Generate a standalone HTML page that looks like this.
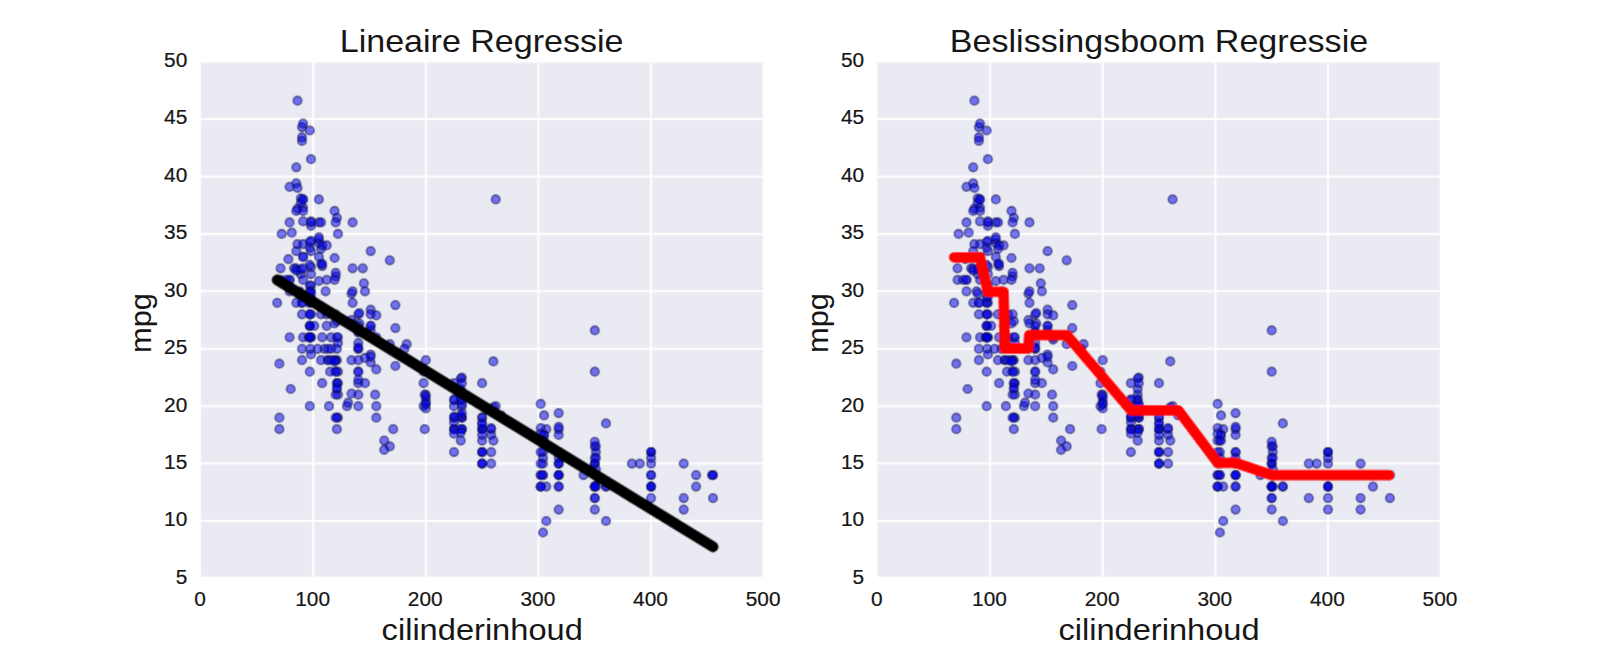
<!DOCTYPE html>
<html><head><meta charset="utf-8"><style>
html,body{margin:0;padding:0;background:#fff;width:1600px;height:656px;overflow:hidden}
svg{display:block}
text{font-family:"Liberation Sans",sans-serif;fill:#161616} text.k{stroke:#161616;stroke-width:0.2px}
</style></head><body>
<svg width="1600" height="656" viewBox="0 0 1600 656">
<defs><filter id="b" filterUnits="userSpaceOnUse" x="0" y="0" width="1600" height="656"><feConvolveMatrix order="3" kernelMatrix="1 6 1 6 36 6 1 6 1" divisor="64" edgeMode="duplicate"/></filter></defs>
<g filter="url(#b)">
<rect width="1600" height="656" fill="#fff"/>
<rect x="200.90" y="62.60" width="561.60" height="514.10" fill="#EAEAF2"/>
<line x1="313.22" y1="62.60" x2="313.22" y2="576.70" stroke="#fff" stroke-width="2"/>
<line x1="425.84" y1="62.60" x2="425.84" y2="576.70" stroke="#fff" stroke-width="2"/>
<line x1="538.46" y1="62.60" x2="538.46" y2="576.70" stroke="#fff" stroke-width="2"/>
<line x1="651.08" y1="62.60" x2="651.08" y2="576.70" stroke="#fff" stroke-width="2"/>
<line x1="200.90" y1="521.04" x2="762.50" y2="521.04" stroke="#fff" stroke-width="2"/>
<line x1="200.90" y1="463.61" x2="762.50" y2="463.61" stroke="#fff" stroke-width="2"/>
<line x1="200.90" y1="406.18" x2="762.50" y2="406.18" stroke="#fff" stroke-width="2"/>
<line x1="200.90" y1="348.75" x2="762.50" y2="348.75" stroke="#fff" stroke-width="2"/>
<line x1="200.90" y1="291.32" x2="762.50" y2="291.32" stroke="#fff" stroke-width="2"/>
<line x1="200.90" y1="233.89" x2="762.50" y2="233.89" stroke="#fff" stroke-width="2"/>
<line x1="200.90" y1="176.46" x2="762.50" y2="176.46" stroke="#fff" stroke-width="2"/>
<line x1="200.90" y1="119.03" x2="762.50" y2="119.03" stroke="#fff" stroke-width="2"/>
<g fill="#0000eb" fill-opacity="0.52" stroke="#10105a" stroke-opacity="0.6" stroke-width="1.6"><circle cx="546.3" cy="429.2" r="4.3"/><circle cx="594.8" cy="463.6" r="4.3"/><circle cx="558.7" cy="429.2" r="4.3"/><circle cx="543.0" cy="452.1" r="4.3"/><circle cx="540.7" cy="440.6" r="4.3"/><circle cx="683.7" cy="463.6" r="4.3"/><circle cx="711.9" cy="475.1" r="4.3"/><circle cx="696.1" cy="475.1" r="4.3"/><circle cx="713.0" cy="475.1" r="4.3"/><circle cx="639.8" cy="463.6" r="4.3"/><circle cx="631.9" cy="463.6" r="4.3"/><circle cx="583.5" cy="475.1" r="4.3"/><circle cx="651.1" cy="463.6" r="4.3"/><circle cx="713.0" cy="475.1" r="4.3"/><circle cx="327.9" cy="360.2" r="4.3"/><circle cx="423.6" cy="383.2" r="4.3"/><circle cx="424.7" cy="429.2" r="4.3"/><circle cx="425.8" cy="394.7" r="4.3"/><circle cx="309.8" cy="325.8" r="4.3"/><circle cx="309.8" cy="337.3" r="4.3"/><circle cx="324.5" cy="348.8" r="4.3"/><circle cx="321.1" cy="360.2" r="4.3"/><circle cx="317.7" cy="348.8" r="4.3"/><circle cx="336.9" cy="337.3" r="4.3"/><circle cx="424.7" cy="394.7" r="4.3"/><circle cx="606.0" cy="521.0" r="4.3"/><circle cx="546.3" cy="521.0" r="4.3"/><circle cx="558.7" cy="509.6" r="4.3"/><circle cx="543.0" cy="532.5" r="4.3"/><circle cx="309.8" cy="325.8" r="4.3"/><circle cx="358.3" cy="314.3" r="4.3"/><circle cx="327.9" cy="348.8" r="4.3"/><circle cx="461.9" cy="417.7" r="4.3"/><circle cx="454.0" cy="452.1" r="4.3"/><circle cx="482.1" cy="440.6" r="4.3"/><circle cx="482.1" cy="417.7" r="4.3"/><circle cx="461.9" cy="429.2" r="4.3"/><circle cx="594.8" cy="475.1" r="4.3"/><circle cx="651.1" cy="475.1" r="4.3"/><circle cx="595.9" cy="475.1" r="4.3"/><circle cx="558.7" cy="475.1" r="4.3"/><circle cx="631.9" cy="498.1" r="4.3"/><circle cx="651.1" cy="486.6" r="4.3"/><circle cx="651.1" cy="486.6" r="4.3"/><circle cx="491.2" cy="429.2" r="4.3"/><circle cx="358.3" cy="383.2" r="4.3"/><circle cx="482.1" cy="417.7" r="4.3"/><circle cx="482.1" cy="429.2" r="4.3"/><circle cx="338.0" cy="371.7" r="4.3"/><circle cx="331.2" cy="314.3" r="4.3"/><circle cx="289.6" cy="291.3" r="4.3"/><circle cx="299.7" cy="291.3" r="4.3"/><circle cx="280.6" cy="279.8" r="4.3"/><circle cx="281.7" cy="233.9" r="4.3"/><circle cx="309.8" cy="325.8" r="4.3"/><circle cx="303.1" cy="337.3" r="4.3"/><circle cx="327.9" cy="360.2" r="4.3"/><circle cx="310.4" cy="348.8" r="4.3"/><circle cx="309.8" cy="371.7" r="4.3"/><circle cx="358.3" cy="406.2" r="4.3"/><circle cx="338.0" cy="394.7" r="4.3"/><circle cx="594.8" cy="486.6" r="4.3"/><circle cx="651.1" cy="475.1" r="4.3"/><circle cx="558.7" cy="463.6" r="4.3"/><circle cx="595.9" cy="475.1" r="4.3"/><circle cx="543.0" cy="440.6" r="4.3"/><circle cx="683.7" cy="509.6" r="4.3"/><circle cx="594.8" cy="486.6" r="4.3"/><circle cx="594.8" cy="498.1" r="4.3"/><circle cx="651.1" cy="486.6" r="4.3"/><circle cx="279.4" cy="417.7" r="4.3"/><circle cx="543.0" cy="463.6" r="4.3"/><circle cx="546.3" cy="486.6" r="4.3"/><circle cx="540.7" cy="486.6" r="4.3"/><circle cx="558.7" cy="475.1" r="4.3"/><circle cx="336.9" cy="429.2" r="4.3"/><circle cx="336.9" cy="383.2" r="4.3"/><circle cx="335.7" cy="394.7" r="4.3"/><circle cx="308.7" cy="337.3" r="4.3"/><circle cx="338.0" cy="383.2" r="4.3"/><circle cx="309.8" cy="314.3" r="4.3"/><circle cx="335.7" cy="371.7" r="4.3"/><circle cx="311.0" cy="314.3" r="4.3"/><circle cx="309.8" cy="325.8" r="4.3"/><circle cx="594.8" cy="486.6" r="4.3"/><circle cx="543.0" cy="475.1" r="4.3"/><circle cx="594.8" cy="486.6" r="4.3"/><circle cx="540.7" cy="475.1" r="4.3"/><circle cx="558.7" cy="463.6" r="4.3"/><circle cx="683.7" cy="498.1" r="4.3"/><circle cx="651.1" cy="486.6" r="4.3"/><circle cx="595.9" cy="486.6" r="4.3"/><circle cx="558.7" cy="475.1" r="4.3"/><circle cx="696.1" cy="486.6" r="4.3"/><circle cx="713.0" cy="498.1" r="4.3"/><circle cx="606.0" cy="486.6" r="4.3"/><circle cx="454.0" cy="429.2" r="4.3"/><circle cx="482.1" cy="452.1" r="4.3"/><circle cx="461.9" cy="429.2" r="4.3"/><circle cx="482.1" cy="429.2" r="4.3"/><circle cx="423.6" cy="371.7" r="4.3"/><circle cx="309.8" cy="337.3" r="4.3"/><circle cx="651.1" cy="509.6" r="4.3"/><circle cx="651.1" cy="498.1" r="4.3"/><circle cx="606.0" cy="486.6" r="4.3"/><circle cx="594.8" cy="498.1" r="4.3"/><circle cx="461.9" cy="429.2" r="4.3"/><circle cx="309.8" cy="406.2" r="4.3"/><circle cx="358.3" cy="394.7" r="4.3"/><circle cx="322.2" cy="383.2" r="4.3"/><circle cx="279.4" cy="429.2" r="4.3"/><circle cx="338.0" cy="417.7" r="4.3"/><circle cx="375.2" cy="394.7" r="4.3"/><circle cx="311.0" cy="337.3" r="4.3"/><circle cx="594.8" cy="463.6" r="4.3"/><circle cx="651.1" cy="452.1" r="4.3"/><circle cx="277.2" cy="302.8" r="4.3"/><circle cx="331.2" cy="360.2" r="4.3"/><circle cx="329.0" cy="406.2" r="4.3"/><circle cx="336.9" cy="417.7" r="4.3"/><circle cx="558.7" cy="463.6" r="4.3"/><circle cx="336.9" cy="360.2" r="4.3"/><circle cx="376.3" cy="406.2" r="4.3"/><circle cx="594.8" cy="509.6" r="4.3"/><circle cx="423.6" cy="406.2" r="4.3"/><circle cx="461.9" cy="417.7" r="4.3"/><circle cx="482.1" cy="463.6" r="4.3"/><circle cx="289.6" cy="279.8" r="4.3"/><circle cx="338.0" cy="337.3" r="4.3"/><circle cx="280.6" cy="268.3" r="4.3"/><circle cx="358.3" cy="348.8" r="4.3"/><circle cx="482.1" cy="452.1" r="4.3"/><circle cx="491.2" cy="452.1" r="4.3"/><circle cx="454.0" cy="429.2" r="4.3"/><circle cx="540.7" cy="452.1" r="4.3"/><circle cx="594.8" cy="486.6" r="4.3"/><circle cx="558.7" cy="475.1" r="4.3"/><circle cx="540.7" cy="475.1" r="4.3"/><circle cx="543.0" cy="475.1" r="4.3"/><circle cx="311.0" cy="302.8" r="4.3"/><circle cx="289.6" cy="337.3" r="4.3"/><circle cx="309.8" cy="337.3" r="4.3"/><circle cx="286.2" cy="279.8" r="4.3"/><circle cx="294.1" cy="268.3" r="4.3"/><circle cx="302.0" cy="314.3" r="4.3"/><circle cx="302.0" cy="360.2" r="4.3"/><circle cx="331.2" cy="337.3" r="4.3"/><circle cx="335.7" cy="360.2" r="4.3"/><circle cx="322.2" cy="337.3" r="4.3"/><circle cx="289.6" cy="279.8" r="4.3"/><circle cx="454.0" cy="417.7" r="4.3"/><circle cx="482.1" cy="429.2" r="4.3"/><circle cx="482.1" cy="463.6" r="4.3"/><circle cx="482.1" cy="463.6" r="4.3"/><circle cx="651.1" cy="452.1" r="4.3"/><circle cx="594.8" cy="463.6" r="4.3"/><circle cx="558.7" cy="452.1" r="4.3"/><circle cx="595.9" cy="475.1" r="4.3"/><circle cx="460.8" cy="440.6" r="4.3"/><circle cx="482.1" cy="452.1" r="4.3"/><circle cx="491.2" cy="463.6" r="4.3"/><circle cx="454.0" cy="429.2" r="4.3"/><circle cx="460.8" cy="394.7" r="4.3"/><circle cx="495.7" cy="406.2" r="4.3"/><circle cx="540.7" cy="486.6" r="4.3"/><circle cx="309.8" cy="302.8" r="4.3"/><circle cx="358.3" cy="371.7" r="4.3"/><circle cx="461.9" cy="406.2" r="4.3"/><circle cx="358.3" cy="371.7" r="4.3"/><circle cx="351.5" cy="360.2" r="4.3"/><circle cx="302.0" cy="348.8" r="4.3"/><circle cx="334.6" cy="360.2" r="4.3"/><circle cx="393.2" cy="429.2" r="4.3"/><circle cx="302.0" cy="302.8" r="4.3"/><circle cx="461.9" cy="417.7" r="4.3"/><circle cx="330.1" cy="371.7" r="4.3"/><circle cx="335.7" cy="371.7" r="4.3"/><circle cx="336.9" cy="383.2" r="4.3"/><circle cx="336.9" cy="348.8" r="4.3"/><circle cx="303.1" cy="256.9" r="4.3"/><circle cx="321.1" cy="314.3" r="4.3"/><circle cx="331.2" cy="348.8" r="4.3"/><circle cx="358.3" cy="348.8" r="4.3"/><circle cx="311.0" cy="337.3" r="4.3"/><circle cx="314.3" cy="325.8" r="4.3"/><circle cx="544.1" cy="434.9" r="4.3"/><circle cx="558.7" cy="452.1" r="4.3"/><circle cx="543.0" cy="457.9" r="4.3"/><circle cx="595.9" cy="469.4" r="4.3"/><circle cx="454.0" cy="383.2" r="4.3"/><circle cx="482.1" cy="383.2" r="4.3"/><circle cx="425.8" cy="360.2" r="4.3"/><circle cx="461.9" cy="377.5" r="4.3"/><circle cx="296.3" cy="302.8" r="4.3"/><circle cx="311.0" cy="354.5" r="4.3"/><circle cx="302.0" cy="302.8" r="4.3"/><circle cx="303.1" cy="256.9" r="4.3"/><circle cx="454.0" cy="406.2" r="4.3"/><circle cx="482.1" cy="429.2" r="4.3"/><circle cx="482.1" cy="423.4" r="4.3"/><circle cx="491.2" cy="434.9" r="4.3"/><circle cx="309.8" cy="297.1" r="4.3"/><circle cx="296.3" cy="268.3" r="4.3"/><circle cx="309.8" cy="314.3" r="4.3"/><circle cx="358.3" cy="331.5" r="4.3"/><circle cx="347.0" cy="406.2" r="4.3"/><circle cx="558.7" cy="486.6" r="4.3"/><circle cx="335.7" cy="417.7" r="4.3"/><circle cx="376.3" cy="417.7" r="4.3"/><circle cx="389.8" cy="446.4" r="4.3"/><circle cx="594.8" cy="446.4" r="4.3"/><circle cx="594.8" cy="486.6" r="4.3"/><circle cx="540.7" cy="486.6" r="4.3"/><circle cx="558.7" cy="486.6" r="4.3"/><circle cx="311.0" cy="274.1" r="4.3"/><circle cx="325.6" cy="291.3" r="4.3"/><circle cx="289.6" cy="222.4" r="4.3"/><circle cx="338.0" cy="343.0" r="4.3"/><circle cx="296.3" cy="251.1" r="4.3"/><circle cx="544.1" cy="434.9" r="4.3"/><circle cx="493.4" cy="440.6" r="4.3"/><circle cx="558.7" cy="457.9" r="4.3"/><circle cx="540.7" cy="463.6" r="4.3"/><circle cx="482.1" cy="434.9" r="4.3"/><circle cx="460.8" cy="400.4" r="4.3"/><circle cx="454.0" cy="417.7" r="4.3"/><circle cx="482.1" cy="423.4" r="4.3"/><circle cx="651.1" cy="452.1" r="4.3"/><circle cx="594.8" cy="457.9" r="4.3"/><circle cx="651.1" cy="457.9" r="4.3"/><circle cx="595.9" cy="452.1" r="4.3"/><circle cx="309.8" cy="302.8" r="4.3"/><circle cx="370.7" cy="354.5" r="4.3"/><circle cx="309.8" cy="337.3" r="4.3"/><circle cx="358.3" cy="343.0" r="4.3"/><circle cx="311.0" cy="285.6" r="4.3"/><circle cx="311.0" cy="251.1" r="4.3"/><circle cx="309.8" cy="291.3" r="4.3"/><circle cx="309.8" cy="285.6" r="4.3"/><circle cx="365.0" cy="383.2" r="4.3"/><circle cx="336.9" cy="389.0" r="4.3"/><circle cx="290.7" cy="389.0" r="4.3"/><circle cx="302.0" cy="140.9" r="4.3"/><circle cx="311.0" cy="221.3" r="4.3"/><circle cx="288.4" cy="259.2" r="4.3"/><circle cx="296.3" cy="183.4" r="4.3"/><circle cx="303.1" cy="221.3" r="4.3"/><circle cx="493.4" cy="407.3" r="4.3"/><circle cx="558.7" cy="413.1" r="4.3"/><circle cx="540.7" cy="403.9" r="4.3"/><circle cx="460.8" cy="415.4" r="4.3"/><circle cx="425.8" cy="400.4" r="4.3"/><circle cx="425.8" cy="403.9" r="4.3"/><circle cx="358.3" cy="347.6" r="4.3"/><circle cx="454.0" cy="400.4" r="4.3"/><circle cx="461.9" cy="413.1" r="4.3"/><circle cx="460.8" cy="399.3" r="4.3"/><circle cx="425.8" cy="397.0" r="4.3"/><circle cx="454.0" cy="422.3" r="4.3"/><circle cx="491.2" cy="428.0" r="4.3"/><circle cx="544.1" cy="415.4" r="4.3"/><circle cx="460.8" cy="432.6" r="4.3"/><circle cx="540.7" cy="428.0" r="4.3"/><circle cx="558.7" cy="434.9" r="4.3"/><circle cx="311.0" cy="291.3" r="4.3"/><circle cx="351.5" cy="320.0" r="4.3"/><circle cx="334.6" cy="323.5" r="4.3"/><circle cx="318.9" cy="281.0" r="4.3"/><circle cx="351.5" cy="393.5" r="4.3"/><circle cx="376.3" cy="369.4" r="4.3"/><circle cx="370.7" cy="362.5" r="4.3"/><circle cx="334.6" cy="361.4" r="4.3"/><circle cx="348.1" cy="402.7" r="4.3"/><circle cx="384.2" cy="440.6" r="4.3"/><circle cx="336.9" cy="387.8" r="4.3"/><circle cx="384.2" cy="449.8" r="4.3"/><circle cx="300.8" cy="274.1" r="4.3"/><circle cx="311.0" cy="297.1" r="4.3"/><circle cx="460.8" cy="389.0" r="4.3"/><circle cx="425.8" cy="408.5" r="4.3"/><circle cx="358.3" cy="379.8" r="4.3"/><circle cx="461.9" cy="403.9" r="4.3"/><circle cx="454.0" cy="399.3" r="4.3"/><circle cx="544.1" cy="440.6" r="4.3"/><circle cx="540.7" cy="433.7" r="4.3"/><circle cx="595.9" cy="446.4" r="4.3"/><circle cx="558.7" cy="426.9" r="4.3"/><circle cx="594.8" cy="441.8" r="4.3"/><circle cx="595.9" cy="457.9" r="4.3"/><circle cx="501.3" cy="415.4" r="4.3"/><circle cx="606.0" cy="423.4" r="4.3"/><circle cx="300.8" cy="269.5" r="4.3"/><circle cx="297.5" cy="244.2" r="4.3"/><circle cx="311.0" cy="225.8" r="4.3"/><circle cx="336.9" cy="321.2" r="4.3"/><circle cx="406.7" cy="344.2" r="4.3"/><circle cx="594.8" cy="371.7" r="4.3"/><circle cx="359.4" cy="323.5" r="4.3"/><circle cx="493.4" cy="361.4" r="4.3"/><circle cx="318.9" cy="243.1" r="4.3"/><circle cx="318.9" cy="239.6" r="4.3"/><circle cx="296.3" cy="270.6" r="4.3"/><circle cx="303.1" cy="207.5" r="4.3"/><circle cx="370.7" cy="309.7" r="4.3"/><circle cx="395.4" cy="305.1" r="4.3"/><circle cx="395.4" cy="328.1" r="4.3"/><circle cx="370.7" cy="251.1" r="4.3"/><circle cx="311.0" cy="159.2" r="4.3"/><circle cx="300.8" cy="198.3" r="4.3"/><circle cx="311.0" cy="267.2" r="4.3"/><circle cx="297.5" cy="208.6" r="4.3"/><circle cx="370.7" cy="314.3" r="4.3"/><circle cx="358.3" cy="332.7" r="4.3"/><circle cx="370.7" cy="356.8" r="4.3"/><circle cx="454.0" cy="416.5" r="4.3"/><circle cx="309.8" cy="241.9" r="4.3"/><circle cx="351.5" cy="293.6" r="4.3"/><circle cx="335.7" cy="276.4" r="4.3"/><circle cx="334.6" cy="210.9" r="4.3"/><circle cx="322.2" cy="266.1" r="4.3"/><circle cx="297.5" cy="100.7" r="4.3"/><circle cx="376.3" cy="315.4" r="4.3"/><circle cx="296.3" cy="167.3" r="4.3"/><circle cx="302.0" cy="127.1" r="4.3"/><circle cx="302.0" cy="137.4" r="4.3"/><circle cx="336.9" cy="217.8" r="4.3"/><circle cx="365.0" cy="291.3" r="4.3"/><circle cx="303.1" cy="123.6" r="4.3"/><circle cx="309.8" cy="247.7" r="4.3"/><circle cx="300.8" cy="293.6" r="4.3"/><circle cx="389.8" cy="260.3" r="4.3"/><circle cx="279.4" cy="363.7" r="4.3"/><circle cx="338.0" cy="233.9" r="4.3"/><circle cx="321.1" cy="263.8" r="4.3"/><circle cx="352.6" cy="323.5" r="4.3"/><circle cx="370.7" cy="330.4" r="4.3"/><circle cx="376.3" cy="339.6" r="4.3"/><circle cx="395.4" cy="366.0" r="4.3"/><circle cx="352.6" cy="291.3" r="4.3"/><circle cx="289.6" cy="186.8" r="4.3"/><circle cx="297.5" cy="187.9" r="4.3"/><circle cx="291.8" cy="232.7" r="4.3"/><circle cx="309.8" cy="264.9" r="4.3"/><circle cx="296.3" cy="210.9" r="4.3"/><circle cx="300.8" cy="202.9" r="4.3"/><circle cx="303.1" cy="244.2" r="4.3"/><circle cx="318.9" cy="237.3" r="4.3"/><circle cx="311.0" cy="240.8" r="4.3"/><circle cx="311.0" cy="292.5" r="4.3"/><circle cx="318.9" cy="256.9" r="4.3"/><circle cx="321.1" cy="248.8" r="4.3"/><circle cx="322.2" cy="263.8" r="4.3"/><circle cx="334.6" cy="258.0" r="4.3"/><circle cx="335.7" cy="272.9" r="4.3"/><circle cx="359.4" cy="313.1" r="4.3"/><circle cx="363.9" cy="283.3" r="4.3"/><circle cx="389.8" cy="344.2" r="4.3"/><circle cx="365.0" cy="357.9" r="4.3"/><circle cx="460.8" cy="378.6" r="4.3"/><circle cx="594.8" cy="330.4" r="4.3"/><circle cx="425.8" cy="403.9" r="4.3"/><circle cx="454.0" cy="433.7" r="4.3"/><circle cx="326.7" cy="314.3" r="4.3"/><circle cx="326.7" cy="325.8" r="4.3"/><circle cx="326.7" cy="245.4" r="4.3"/><circle cx="326.7" cy="279.8" r="4.3"/><circle cx="352.6" cy="302.8" r="4.3"/><circle cx="370.7" cy="325.8" r="4.3"/><circle cx="358.3" cy="360.2" r="4.3"/><circle cx="318.9" cy="222.4" r="4.3"/><circle cx="303.1" cy="210.9" r="4.3"/><circle cx="303.1" cy="279.8" r="4.3"/><circle cx="318.9" cy="199.4" r="4.3"/><circle cx="311.0" cy="222.4" r="4.3"/><circle cx="335.7" cy="222.4" r="4.3"/><circle cx="321.1" cy="222.4" r="4.3"/><circle cx="322.2" cy="245.4" r="4.3"/><circle cx="303.1" cy="199.4" r="4.3"/><circle cx="303.1" cy="268.3" r="4.3"/><circle cx="303.1" cy="199.4" r="4.3"/><circle cx="404.4" cy="348.8" r="4.3"/><circle cx="495.7" cy="199.4" r="4.3"/><circle cx="376.3" cy="337.3" r="4.3"/><circle cx="461.9" cy="383.2" r="4.3"/><circle cx="362.8" cy="268.3" r="4.3"/><circle cx="352.6" cy="222.4" r="4.3"/><circle cx="370.7" cy="325.8" r="4.3"/><circle cx="358.3" cy="325.8" r="4.3"/><circle cx="309.8" cy="130.5" r="4.3"/><circle cx="352.6" cy="268.3" r="4.3"/><circle cx="335.7" cy="314.3" r="4.3"/><circle cx="334.6" cy="279.8" r="4.3"/></g>
<polyline points="277.2,279.9 713.0,546.8" fill="none" stroke="#000" stroke-width="11.2" stroke-linecap="round"/>
<rect x="877.60" y="62.60" width="562.20" height="514.10" fill="#EAEAF2"/>
<line x1="990.12" y1="62.60" x2="990.12" y2="576.70" stroke="#fff" stroke-width="2"/>
<line x1="1102.74" y1="62.60" x2="1102.74" y2="576.70" stroke="#fff" stroke-width="2"/>
<line x1="1215.36" y1="62.60" x2="1215.36" y2="576.70" stroke="#fff" stroke-width="2"/>
<line x1="1327.98" y1="62.60" x2="1327.98" y2="576.70" stroke="#fff" stroke-width="2"/>
<line x1="877.60" y1="521.04" x2="1439.80" y2="521.04" stroke="#fff" stroke-width="2"/>
<line x1="877.60" y1="463.61" x2="1439.80" y2="463.61" stroke="#fff" stroke-width="2"/>
<line x1="877.60" y1="406.18" x2="1439.80" y2="406.18" stroke="#fff" stroke-width="2"/>
<line x1="877.60" y1="348.75" x2="1439.80" y2="348.75" stroke="#fff" stroke-width="2"/>
<line x1="877.60" y1="291.32" x2="1439.80" y2="291.32" stroke="#fff" stroke-width="2"/>
<line x1="877.60" y1="233.89" x2="1439.80" y2="233.89" stroke="#fff" stroke-width="2"/>
<line x1="877.60" y1="176.46" x2="1439.80" y2="176.46" stroke="#fff" stroke-width="2"/>
<line x1="877.60" y1="119.03" x2="1439.80" y2="119.03" stroke="#fff" stroke-width="2"/>
<g fill="#0000eb" fill-opacity="0.52" stroke="#10105a" stroke-opacity="0.6" stroke-width="1.6"><circle cx="1223.2" cy="429.2" r="4.3"/><circle cx="1271.7" cy="463.6" r="4.3"/><circle cx="1235.6" cy="429.2" r="4.3"/><circle cx="1219.9" cy="452.1" r="4.3"/><circle cx="1217.6" cy="440.6" r="4.3"/><circle cx="1360.6" cy="463.6" r="4.3"/><circle cx="1388.8" cy="475.1" r="4.3"/><circle cx="1373.0" cy="475.1" r="4.3"/><circle cx="1389.9" cy="475.1" r="4.3"/><circle cx="1316.7" cy="463.6" r="4.3"/><circle cx="1308.8" cy="463.6" r="4.3"/><circle cx="1260.4" cy="475.1" r="4.3"/><circle cx="1328.0" cy="463.6" r="4.3"/><circle cx="1389.9" cy="475.1" r="4.3"/><circle cx="1004.8" cy="360.2" r="4.3"/><circle cx="1100.5" cy="383.2" r="4.3"/><circle cx="1101.6" cy="429.2" r="4.3"/><circle cx="1102.7" cy="394.7" r="4.3"/><circle cx="986.7" cy="325.8" r="4.3"/><circle cx="986.7" cy="337.3" r="4.3"/><circle cx="1001.4" cy="348.8" r="4.3"/><circle cx="998.0" cy="360.2" r="4.3"/><circle cx="994.6" cy="348.8" r="4.3"/><circle cx="1013.8" cy="337.3" r="4.3"/><circle cx="1101.6" cy="394.7" r="4.3"/><circle cx="1282.9" cy="521.0" r="4.3"/><circle cx="1223.2" cy="521.0" r="4.3"/><circle cx="1235.6" cy="509.6" r="4.3"/><circle cx="1219.9" cy="532.5" r="4.3"/><circle cx="986.7" cy="325.8" r="4.3"/><circle cx="1035.2" cy="314.3" r="4.3"/><circle cx="1004.8" cy="348.8" r="4.3"/><circle cx="1138.8" cy="417.7" r="4.3"/><circle cx="1130.9" cy="452.1" r="4.3"/><circle cx="1159.0" cy="440.6" r="4.3"/><circle cx="1159.0" cy="417.7" r="4.3"/><circle cx="1138.8" cy="429.2" r="4.3"/><circle cx="1271.7" cy="475.1" r="4.3"/><circle cx="1328.0" cy="475.1" r="4.3"/><circle cx="1272.8" cy="475.1" r="4.3"/><circle cx="1235.6" cy="475.1" r="4.3"/><circle cx="1308.8" cy="498.1" r="4.3"/><circle cx="1328.0" cy="486.6" r="4.3"/><circle cx="1328.0" cy="486.6" r="4.3"/><circle cx="1168.1" cy="429.2" r="4.3"/><circle cx="1035.2" cy="383.2" r="4.3"/><circle cx="1159.0" cy="417.7" r="4.3"/><circle cx="1159.0" cy="429.2" r="4.3"/><circle cx="1014.9" cy="371.7" r="4.3"/><circle cx="1008.1" cy="314.3" r="4.3"/><circle cx="966.5" cy="291.3" r="4.3"/><circle cx="976.6" cy="291.3" r="4.3"/><circle cx="957.5" cy="279.8" r="4.3"/><circle cx="958.6" cy="233.9" r="4.3"/><circle cx="986.7" cy="325.8" r="4.3"/><circle cx="980.0" cy="337.3" r="4.3"/><circle cx="1004.8" cy="360.2" r="4.3"/><circle cx="987.3" cy="348.8" r="4.3"/><circle cx="986.7" cy="371.7" r="4.3"/><circle cx="1035.2" cy="406.2" r="4.3"/><circle cx="1014.9" cy="394.7" r="4.3"/><circle cx="1271.7" cy="486.6" r="4.3"/><circle cx="1328.0" cy="475.1" r="4.3"/><circle cx="1235.6" cy="463.6" r="4.3"/><circle cx="1272.8" cy="475.1" r="4.3"/><circle cx="1219.9" cy="440.6" r="4.3"/><circle cx="1360.6" cy="509.6" r="4.3"/><circle cx="1271.7" cy="486.6" r="4.3"/><circle cx="1271.7" cy="498.1" r="4.3"/><circle cx="1328.0" cy="486.6" r="4.3"/><circle cx="956.3" cy="417.7" r="4.3"/><circle cx="1219.9" cy="463.6" r="4.3"/><circle cx="1223.2" cy="486.6" r="4.3"/><circle cx="1217.6" cy="486.6" r="4.3"/><circle cx="1235.6" cy="475.1" r="4.3"/><circle cx="1013.8" cy="429.2" r="4.3"/><circle cx="1013.8" cy="383.2" r="4.3"/><circle cx="1012.6" cy="394.7" r="4.3"/><circle cx="985.6" cy="337.3" r="4.3"/><circle cx="1014.9" cy="383.2" r="4.3"/><circle cx="986.7" cy="314.3" r="4.3"/><circle cx="1012.6" cy="371.7" r="4.3"/><circle cx="987.9" cy="314.3" r="4.3"/><circle cx="986.7" cy="325.8" r="4.3"/><circle cx="1271.7" cy="486.6" r="4.3"/><circle cx="1219.9" cy="475.1" r="4.3"/><circle cx="1271.7" cy="486.6" r="4.3"/><circle cx="1217.6" cy="475.1" r="4.3"/><circle cx="1235.6" cy="463.6" r="4.3"/><circle cx="1360.6" cy="498.1" r="4.3"/><circle cx="1328.0" cy="486.6" r="4.3"/><circle cx="1272.8" cy="486.6" r="4.3"/><circle cx="1235.6" cy="475.1" r="4.3"/><circle cx="1373.0" cy="486.6" r="4.3"/><circle cx="1389.9" cy="498.1" r="4.3"/><circle cx="1282.9" cy="486.6" r="4.3"/><circle cx="1130.9" cy="429.2" r="4.3"/><circle cx="1159.0" cy="452.1" r="4.3"/><circle cx="1138.8" cy="429.2" r="4.3"/><circle cx="1159.0" cy="429.2" r="4.3"/><circle cx="1100.5" cy="371.7" r="4.3"/><circle cx="986.7" cy="337.3" r="4.3"/><circle cx="1328.0" cy="509.6" r="4.3"/><circle cx="1328.0" cy="498.1" r="4.3"/><circle cx="1282.9" cy="486.6" r="4.3"/><circle cx="1271.7" cy="498.1" r="4.3"/><circle cx="1138.8" cy="429.2" r="4.3"/><circle cx="986.7" cy="406.2" r="4.3"/><circle cx="1035.2" cy="394.7" r="4.3"/><circle cx="999.1" cy="383.2" r="4.3"/><circle cx="956.3" cy="429.2" r="4.3"/><circle cx="1014.9" cy="417.7" r="4.3"/><circle cx="1052.1" cy="394.7" r="4.3"/><circle cx="987.9" cy="337.3" r="4.3"/><circle cx="1271.7" cy="463.6" r="4.3"/><circle cx="1328.0" cy="452.1" r="4.3"/><circle cx="954.1" cy="302.8" r="4.3"/><circle cx="1008.1" cy="360.2" r="4.3"/><circle cx="1005.9" cy="406.2" r="4.3"/><circle cx="1013.8" cy="417.7" r="4.3"/><circle cx="1235.6" cy="463.6" r="4.3"/><circle cx="1013.8" cy="360.2" r="4.3"/><circle cx="1053.2" cy="406.2" r="4.3"/><circle cx="1271.7" cy="509.6" r="4.3"/><circle cx="1100.5" cy="406.2" r="4.3"/><circle cx="1138.8" cy="417.7" r="4.3"/><circle cx="1159.0" cy="463.6" r="4.3"/><circle cx="966.5" cy="279.8" r="4.3"/><circle cx="1014.9" cy="337.3" r="4.3"/><circle cx="957.5" cy="268.3" r="4.3"/><circle cx="1035.2" cy="348.8" r="4.3"/><circle cx="1159.0" cy="452.1" r="4.3"/><circle cx="1168.1" cy="452.1" r="4.3"/><circle cx="1130.9" cy="429.2" r="4.3"/><circle cx="1217.6" cy="452.1" r="4.3"/><circle cx="1271.7" cy="486.6" r="4.3"/><circle cx="1235.6" cy="475.1" r="4.3"/><circle cx="1217.6" cy="475.1" r="4.3"/><circle cx="1219.9" cy="475.1" r="4.3"/><circle cx="987.9" cy="302.8" r="4.3"/><circle cx="966.5" cy="337.3" r="4.3"/><circle cx="986.7" cy="337.3" r="4.3"/><circle cx="963.1" cy="279.8" r="4.3"/><circle cx="971.0" cy="268.3" r="4.3"/><circle cx="978.9" cy="314.3" r="4.3"/><circle cx="978.9" cy="360.2" r="4.3"/><circle cx="1008.1" cy="337.3" r="4.3"/><circle cx="1012.6" cy="360.2" r="4.3"/><circle cx="999.1" cy="337.3" r="4.3"/><circle cx="966.5" cy="279.8" r="4.3"/><circle cx="1130.9" cy="417.7" r="4.3"/><circle cx="1159.0" cy="429.2" r="4.3"/><circle cx="1159.0" cy="463.6" r="4.3"/><circle cx="1159.0" cy="463.6" r="4.3"/><circle cx="1328.0" cy="452.1" r="4.3"/><circle cx="1271.7" cy="463.6" r="4.3"/><circle cx="1235.6" cy="452.1" r="4.3"/><circle cx="1272.8" cy="475.1" r="4.3"/><circle cx="1137.7" cy="440.6" r="4.3"/><circle cx="1159.0" cy="452.1" r="4.3"/><circle cx="1168.1" cy="463.6" r="4.3"/><circle cx="1130.9" cy="429.2" r="4.3"/><circle cx="1137.7" cy="394.7" r="4.3"/><circle cx="1172.6" cy="406.2" r="4.3"/><circle cx="1217.6" cy="486.6" r="4.3"/><circle cx="986.7" cy="302.8" r="4.3"/><circle cx="1035.2" cy="371.7" r="4.3"/><circle cx="1138.8" cy="406.2" r="4.3"/><circle cx="1035.2" cy="371.7" r="4.3"/><circle cx="1028.4" cy="360.2" r="4.3"/><circle cx="978.9" cy="348.8" r="4.3"/><circle cx="1011.5" cy="360.2" r="4.3"/><circle cx="1070.1" cy="429.2" r="4.3"/><circle cx="978.9" cy="302.8" r="4.3"/><circle cx="1138.8" cy="417.7" r="4.3"/><circle cx="1007.0" cy="371.7" r="4.3"/><circle cx="1012.6" cy="371.7" r="4.3"/><circle cx="1013.8" cy="383.2" r="4.3"/><circle cx="1013.8" cy="348.8" r="4.3"/><circle cx="980.0" cy="256.9" r="4.3"/><circle cx="998.0" cy="314.3" r="4.3"/><circle cx="1008.1" cy="348.8" r="4.3"/><circle cx="1035.2" cy="348.8" r="4.3"/><circle cx="987.9" cy="337.3" r="4.3"/><circle cx="991.2" cy="325.8" r="4.3"/><circle cx="1221.0" cy="434.9" r="4.3"/><circle cx="1235.6" cy="452.1" r="4.3"/><circle cx="1219.9" cy="457.9" r="4.3"/><circle cx="1272.8" cy="469.4" r="4.3"/><circle cx="1130.9" cy="383.2" r="4.3"/><circle cx="1159.0" cy="383.2" r="4.3"/><circle cx="1102.7" cy="360.2" r="4.3"/><circle cx="1138.8" cy="377.5" r="4.3"/><circle cx="973.2" cy="302.8" r="4.3"/><circle cx="987.9" cy="354.5" r="4.3"/><circle cx="978.9" cy="302.8" r="4.3"/><circle cx="980.0" cy="256.9" r="4.3"/><circle cx="1130.9" cy="406.2" r="4.3"/><circle cx="1159.0" cy="429.2" r="4.3"/><circle cx="1159.0" cy="423.4" r="4.3"/><circle cx="1168.1" cy="434.9" r="4.3"/><circle cx="986.7" cy="297.1" r="4.3"/><circle cx="973.2" cy="268.3" r="4.3"/><circle cx="986.7" cy="314.3" r="4.3"/><circle cx="1035.2" cy="331.5" r="4.3"/><circle cx="1023.9" cy="406.2" r="4.3"/><circle cx="1235.6" cy="486.6" r="4.3"/><circle cx="1012.6" cy="417.7" r="4.3"/><circle cx="1053.2" cy="417.7" r="4.3"/><circle cx="1066.7" cy="446.4" r="4.3"/><circle cx="1271.7" cy="446.4" r="4.3"/><circle cx="1271.7" cy="486.6" r="4.3"/><circle cx="1217.6" cy="486.6" r="4.3"/><circle cx="1235.6" cy="486.6" r="4.3"/><circle cx="987.9" cy="274.1" r="4.3"/><circle cx="1002.5" cy="291.3" r="4.3"/><circle cx="966.5" cy="222.4" r="4.3"/><circle cx="1014.9" cy="343.0" r="4.3"/><circle cx="973.2" cy="251.1" r="4.3"/><circle cx="1221.0" cy="434.9" r="4.3"/><circle cx="1170.3" cy="440.6" r="4.3"/><circle cx="1235.6" cy="457.9" r="4.3"/><circle cx="1217.6" cy="463.6" r="4.3"/><circle cx="1159.0" cy="434.9" r="4.3"/><circle cx="1137.7" cy="400.4" r="4.3"/><circle cx="1130.9" cy="417.7" r="4.3"/><circle cx="1159.0" cy="423.4" r="4.3"/><circle cx="1328.0" cy="452.1" r="4.3"/><circle cx="1271.7" cy="457.9" r="4.3"/><circle cx="1328.0" cy="457.9" r="4.3"/><circle cx="1272.8" cy="452.1" r="4.3"/><circle cx="986.7" cy="302.8" r="4.3"/><circle cx="1047.6" cy="354.5" r="4.3"/><circle cx="986.7" cy="337.3" r="4.3"/><circle cx="1035.2" cy="343.0" r="4.3"/><circle cx="987.9" cy="285.6" r="4.3"/><circle cx="987.9" cy="251.1" r="4.3"/><circle cx="986.7" cy="291.3" r="4.3"/><circle cx="986.7" cy="285.6" r="4.3"/><circle cx="1041.9" cy="383.2" r="4.3"/><circle cx="1013.8" cy="389.0" r="4.3"/><circle cx="967.6" cy="389.0" r="4.3"/><circle cx="978.9" cy="140.9" r="4.3"/><circle cx="987.9" cy="221.3" r="4.3"/><circle cx="965.3" cy="259.2" r="4.3"/><circle cx="973.2" cy="183.4" r="4.3"/><circle cx="980.0" cy="221.3" r="4.3"/><circle cx="1170.3" cy="407.3" r="4.3"/><circle cx="1235.6" cy="413.1" r="4.3"/><circle cx="1217.6" cy="403.9" r="4.3"/><circle cx="1137.7" cy="415.4" r="4.3"/><circle cx="1102.7" cy="400.4" r="4.3"/><circle cx="1102.7" cy="403.9" r="4.3"/><circle cx="1035.2" cy="347.6" r="4.3"/><circle cx="1130.9" cy="400.4" r="4.3"/><circle cx="1138.8" cy="413.1" r="4.3"/><circle cx="1137.7" cy="399.3" r="4.3"/><circle cx="1102.7" cy="397.0" r="4.3"/><circle cx="1130.9" cy="422.3" r="4.3"/><circle cx="1168.1" cy="428.0" r="4.3"/><circle cx="1221.0" cy="415.4" r="4.3"/><circle cx="1137.7" cy="432.6" r="4.3"/><circle cx="1217.6" cy="428.0" r="4.3"/><circle cx="1235.6" cy="434.9" r="4.3"/><circle cx="987.9" cy="291.3" r="4.3"/><circle cx="1028.4" cy="320.0" r="4.3"/><circle cx="1011.5" cy="323.5" r="4.3"/><circle cx="995.8" cy="281.0" r="4.3"/><circle cx="1028.4" cy="393.5" r="4.3"/><circle cx="1053.2" cy="369.4" r="4.3"/><circle cx="1047.6" cy="362.5" r="4.3"/><circle cx="1011.5" cy="361.4" r="4.3"/><circle cx="1025.0" cy="402.7" r="4.3"/><circle cx="1061.1" cy="440.6" r="4.3"/><circle cx="1013.8" cy="387.8" r="4.3"/><circle cx="1061.1" cy="449.8" r="4.3"/><circle cx="977.7" cy="274.1" r="4.3"/><circle cx="987.9" cy="297.1" r="4.3"/><circle cx="1137.7" cy="389.0" r="4.3"/><circle cx="1102.7" cy="408.5" r="4.3"/><circle cx="1035.2" cy="379.8" r="4.3"/><circle cx="1138.8" cy="403.9" r="4.3"/><circle cx="1130.9" cy="399.3" r="4.3"/><circle cx="1221.0" cy="440.6" r="4.3"/><circle cx="1217.6" cy="433.7" r="4.3"/><circle cx="1272.8" cy="446.4" r="4.3"/><circle cx="1235.6" cy="426.9" r="4.3"/><circle cx="1271.7" cy="441.8" r="4.3"/><circle cx="1272.8" cy="457.9" r="4.3"/><circle cx="1178.2" cy="415.4" r="4.3"/><circle cx="1282.9" cy="423.4" r="4.3"/><circle cx="977.7" cy="269.5" r="4.3"/><circle cx="974.4" cy="244.2" r="4.3"/><circle cx="987.9" cy="225.8" r="4.3"/><circle cx="1013.8" cy="321.2" r="4.3"/><circle cx="1083.6" cy="344.2" r="4.3"/><circle cx="1271.7" cy="371.7" r="4.3"/><circle cx="1036.3" cy="323.5" r="4.3"/><circle cx="1170.3" cy="361.4" r="4.3"/><circle cx="995.8" cy="243.1" r="4.3"/><circle cx="995.8" cy="239.6" r="4.3"/><circle cx="973.2" cy="270.6" r="4.3"/><circle cx="980.0" cy="207.5" r="4.3"/><circle cx="1047.6" cy="309.7" r="4.3"/><circle cx="1072.3" cy="305.1" r="4.3"/><circle cx="1072.3" cy="328.1" r="4.3"/><circle cx="1047.6" cy="251.1" r="4.3"/><circle cx="987.9" cy="159.2" r="4.3"/><circle cx="977.7" cy="198.3" r="4.3"/><circle cx="987.9" cy="267.2" r="4.3"/><circle cx="974.4" cy="208.6" r="4.3"/><circle cx="1047.6" cy="314.3" r="4.3"/><circle cx="1035.2" cy="332.7" r="4.3"/><circle cx="1047.6" cy="356.8" r="4.3"/><circle cx="1130.9" cy="416.5" r="4.3"/><circle cx="986.7" cy="241.9" r="4.3"/><circle cx="1028.4" cy="293.6" r="4.3"/><circle cx="1012.6" cy="276.4" r="4.3"/><circle cx="1011.5" cy="210.9" r="4.3"/><circle cx="999.1" cy="266.1" r="4.3"/><circle cx="974.4" cy="100.7" r="4.3"/><circle cx="1053.2" cy="315.4" r="4.3"/><circle cx="973.2" cy="167.3" r="4.3"/><circle cx="978.9" cy="127.1" r="4.3"/><circle cx="978.9" cy="137.4" r="4.3"/><circle cx="1013.8" cy="217.8" r="4.3"/><circle cx="1041.9" cy="291.3" r="4.3"/><circle cx="980.0" cy="123.6" r="4.3"/><circle cx="986.7" cy="247.7" r="4.3"/><circle cx="977.7" cy="293.6" r="4.3"/><circle cx="1066.7" cy="260.3" r="4.3"/><circle cx="956.3" cy="363.7" r="4.3"/><circle cx="1014.9" cy="233.9" r="4.3"/><circle cx="998.0" cy="263.8" r="4.3"/><circle cx="1029.5" cy="323.5" r="4.3"/><circle cx="1047.6" cy="330.4" r="4.3"/><circle cx="1053.2" cy="339.6" r="4.3"/><circle cx="1072.3" cy="366.0" r="4.3"/><circle cx="1029.5" cy="291.3" r="4.3"/><circle cx="966.5" cy="186.8" r="4.3"/><circle cx="974.4" cy="187.9" r="4.3"/><circle cx="968.7" cy="232.7" r="4.3"/><circle cx="986.7" cy="264.9" r="4.3"/><circle cx="973.2" cy="210.9" r="4.3"/><circle cx="977.7" cy="202.9" r="4.3"/><circle cx="980.0" cy="244.2" r="4.3"/><circle cx="995.8" cy="237.3" r="4.3"/><circle cx="987.9" cy="240.8" r="4.3"/><circle cx="987.9" cy="292.5" r="4.3"/><circle cx="995.8" cy="256.9" r="4.3"/><circle cx="998.0" cy="248.8" r="4.3"/><circle cx="999.1" cy="263.8" r="4.3"/><circle cx="1011.5" cy="258.0" r="4.3"/><circle cx="1012.6" cy="272.9" r="4.3"/><circle cx="1036.3" cy="313.1" r="4.3"/><circle cx="1040.8" cy="283.3" r="4.3"/><circle cx="1066.7" cy="344.2" r="4.3"/><circle cx="1041.9" cy="357.9" r="4.3"/><circle cx="1137.7" cy="378.6" r="4.3"/><circle cx="1271.7" cy="330.4" r="4.3"/><circle cx="1102.7" cy="403.9" r="4.3"/><circle cx="1130.9" cy="433.7" r="4.3"/><circle cx="1003.6" cy="314.3" r="4.3"/><circle cx="1003.6" cy="325.8" r="4.3"/><circle cx="1003.6" cy="245.4" r="4.3"/><circle cx="1003.6" cy="279.8" r="4.3"/><circle cx="1029.5" cy="302.8" r="4.3"/><circle cx="1047.6" cy="325.8" r="4.3"/><circle cx="1035.2" cy="360.2" r="4.3"/><circle cx="995.8" cy="222.4" r="4.3"/><circle cx="980.0" cy="210.9" r="4.3"/><circle cx="980.0" cy="279.8" r="4.3"/><circle cx="995.8" cy="199.4" r="4.3"/><circle cx="987.9" cy="222.4" r="4.3"/><circle cx="1012.6" cy="222.4" r="4.3"/><circle cx="998.0" cy="222.4" r="4.3"/><circle cx="999.1" cy="245.4" r="4.3"/><circle cx="980.0" cy="199.4" r="4.3"/><circle cx="980.0" cy="268.3" r="4.3"/><circle cx="980.0" cy="199.4" r="4.3"/><circle cx="1081.3" cy="348.8" r="4.3"/><circle cx="1172.6" cy="199.4" r="4.3"/><circle cx="1053.2" cy="337.3" r="4.3"/><circle cx="1138.8" cy="383.2" r="4.3"/><circle cx="1039.7" cy="268.3" r="4.3"/><circle cx="1029.5" cy="222.4" r="4.3"/><circle cx="1047.6" cy="325.8" r="4.3"/><circle cx="1035.2" cy="325.8" r="4.3"/><circle cx="986.7" cy="130.5" r="4.3"/><circle cx="1029.5" cy="268.3" r="4.3"/><circle cx="1012.6" cy="314.3" r="4.3"/><circle cx="1011.5" cy="279.8" r="4.3"/></g>
<polyline points="954.1,257.3 980.0,257.3 987.9,291.9 1003.6,291.9 1004.8,348.5 1028.5,348.5 1029.2,335.1 1066.7,335.1 1130.9,410.3 1178.2,410.3 1217.6,462.8 1235.6,462.8 1271.7,475.1 1389.0,475.1" fill="none" stroke="#ff0000" stroke-width="10.8" stroke-linecap="round" stroke-linejoin="round"/>
</g>
<g class="t">
<text x="481.6" y="52.1" font-size="32" text-anchor="middle" textLength="283.7" lengthAdjust="spacingAndGlyphs">Lineaire Regressie</text>
<text x="482.2" y="640.1" font-size="29" text-anchor="middle" textLength="201.2" lengthAdjust="spacingAndGlyphs">cilinderinhoud</text>
<text transform="translate(150.6,323.0) rotate(-90)" font-size="29" text-anchor="middle" textLength="60" lengthAdjust="spacingAndGlyphs">mpg</text>
<text class="k" x="200.0" y="605.7" font-size="19.3" text-anchor="middle" textLength="11.60" lengthAdjust="spacingAndGlyphs">0</text>
<text class="k" x="312.6" y="605.7" font-size="19.3" text-anchor="middle" textLength="34.80" lengthAdjust="spacingAndGlyphs">100</text>
<text class="k" x="425.2" y="605.7" font-size="19.3" text-anchor="middle" textLength="34.80" lengthAdjust="spacingAndGlyphs">200</text>
<text class="k" x="537.9" y="605.7" font-size="19.3" text-anchor="middle" textLength="34.80" lengthAdjust="spacingAndGlyphs">300</text>
<text class="k" x="650.5" y="605.7" font-size="19.3" text-anchor="middle" textLength="34.80" lengthAdjust="spacingAndGlyphs">400</text>
<text class="k" x="763.1" y="605.7" font-size="19.3" text-anchor="middle" textLength="34.80" lengthAdjust="spacingAndGlyphs">500</text>
<text class="k" x="187.3" y="583.9" font-size="19.4" text-anchor="end" textLength="11.60" lengthAdjust="spacingAndGlyphs">5</text>
<text class="k" x="187.3" y="526.4" font-size="19.4" text-anchor="end" textLength="23.20" lengthAdjust="spacingAndGlyphs">10</text>
<text class="k" x="187.3" y="469.0" font-size="19.4" text-anchor="end" textLength="23.20" lengthAdjust="spacingAndGlyphs">15</text>
<text class="k" x="187.3" y="411.6" font-size="19.4" text-anchor="end" textLength="23.20" lengthAdjust="spacingAndGlyphs">20</text>
<text class="k" x="187.3" y="354.2" font-size="19.4" text-anchor="end" textLength="23.20" lengthAdjust="spacingAndGlyphs">25</text>
<text class="k" x="187.3" y="296.7" font-size="19.4" text-anchor="end" textLength="23.20" lengthAdjust="spacingAndGlyphs">30</text>
<text class="k" x="187.3" y="239.3" font-size="19.4" text-anchor="end" textLength="23.20" lengthAdjust="spacingAndGlyphs">35</text>
<text class="k" x="187.3" y="181.9" font-size="19.4" text-anchor="end" textLength="23.20" lengthAdjust="spacingAndGlyphs">40</text>
<text class="k" x="187.3" y="124.4" font-size="19.4" text-anchor="end" textLength="23.20" lengthAdjust="spacingAndGlyphs">45</text>
<text class="k" x="187.3" y="67.0" font-size="19.4" text-anchor="end" textLength="23.20" lengthAdjust="spacingAndGlyphs">50</text>
<text x="1159.0" y="52.1" font-size="32" text-anchor="middle" textLength="418.3" lengthAdjust="spacingAndGlyphs">Beslissingsboom Regressie</text>
<text x="1159.0" y="640.1" font-size="29" text-anchor="middle" textLength="201.2" lengthAdjust="spacingAndGlyphs">cilinderinhoud</text>
<text transform="translate(827.5,323.0) rotate(-90)" font-size="29" text-anchor="middle" textLength="60" lengthAdjust="spacingAndGlyphs">mpg</text>
<text class="k" x="876.9" y="605.7" font-size="19.3" text-anchor="middle" textLength="11.60" lengthAdjust="spacingAndGlyphs">0</text>
<text class="k" x="989.5" y="605.7" font-size="19.3" text-anchor="middle" textLength="34.80" lengthAdjust="spacingAndGlyphs">100</text>
<text class="k" x="1102.1" y="605.7" font-size="19.3" text-anchor="middle" textLength="34.80" lengthAdjust="spacingAndGlyphs">200</text>
<text class="k" x="1214.8" y="605.7" font-size="19.3" text-anchor="middle" textLength="34.80" lengthAdjust="spacingAndGlyphs">300</text>
<text class="k" x="1327.4" y="605.7" font-size="19.3" text-anchor="middle" textLength="34.80" lengthAdjust="spacingAndGlyphs">400</text>
<text class="k" x="1440.0" y="605.7" font-size="19.3" text-anchor="middle" textLength="34.80" lengthAdjust="spacingAndGlyphs">500</text>
<text class="k" x="864.2" y="583.9" font-size="19.4" text-anchor="end" textLength="11.60" lengthAdjust="spacingAndGlyphs">5</text>
<text class="k" x="864.2" y="526.4" font-size="19.4" text-anchor="end" textLength="23.20" lengthAdjust="spacingAndGlyphs">10</text>
<text class="k" x="864.2" y="469.0" font-size="19.4" text-anchor="end" textLength="23.20" lengthAdjust="spacingAndGlyphs">15</text>
<text class="k" x="864.2" y="411.6" font-size="19.4" text-anchor="end" textLength="23.20" lengthAdjust="spacingAndGlyphs">20</text>
<text class="k" x="864.2" y="354.2" font-size="19.4" text-anchor="end" textLength="23.20" lengthAdjust="spacingAndGlyphs">25</text>
<text class="k" x="864.2" y="296.7" font-size="19.4" text-anchor="end" textLength="23.20" lengthAdjust="spacingAndGlyphs">30</text>
<text class="k" x="864.2" y="239.3" font-size="19.4" text-anchor="end" textLength="23.20" lengthAdjust="spacingAndGlyphs">35</text>
<text class="k" x="864.2" y="181.9" font-size="19.4" text-anchor="end" textLength="23.20" lengthAdjust="spacingAndGlyphs">40</text>
<text class="k" x="864.2" y="124.4" font-size="19.4" text-anchor="end" textLength="23.20" lengthAdjust="spacingAndGlyphs">45</text>
<text class="k" x="864.2" y="67.0" font-size="19.4" text-anchor="end" textLength="23.20" lengthAdjust="spacingAndGlyphs">50</text>
</g>
</svg></body></html>
